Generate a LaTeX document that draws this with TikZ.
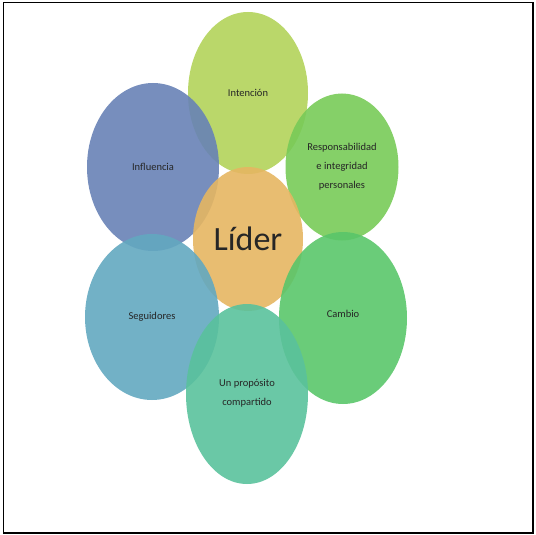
\documentclass[tikz,border=0pt]{standalone}
\usepackage{fontspec}
\setmainfont{Carlito}
\usetikzlibrary{shapes.geometric}
\definecolor{cIntencion}{HTML}{B3D35A}
\definecolor{cInfluencia}{HTML}{6882B6}
\definecolor{cRespons}{HTML}{78CB58}
\definecolor{cLider}{HTML}{E6B662}
\definecolor{cSeguidores}{HTML}{63A8C0}
\definecolor{cCambio}{HTML}{5AC66A}
\definecolor{cProposito}{HTML}{5AC29C}

\begin{document}
\begin{tikzpicture}[
        x=1pt, y=-1pt,
        blob/.style={ellipse,inner sep=0pt,fill opacity=0.9,text opacity=1,
            text=black!85,font=\fontsize{10.5}{19}\selectfont,align=center},
        frame/.style={line width=1.5pt}
        ]
        \useasboundingbox (0,0) rectangle (536,535);
        \draw[frame] (3.5,2.5) rectangle (533,533);

        \node[blob, fill=cIntencion, minimum width=120pt, minimum height=162pt] (intencion) at (248,93){Intención};
        \node[blob, fill=cInfluencia, minimum width=132pt, minimum height=168pt] (influencia) at (153,167){Influencia};
        \node[blob, fill=cRespons, minimum width=113pt, minimum height=147pt] (respons) at (342,167){Responsabilidad\\e integridad\\personales};
        \node[blob, fill=cLider, minimum width=110pt, minimum height=144pt, font=\fontsize{34}{38}\selectfont] (lider) at (248,239){Líder};
        \node[blob, fill=cSeguidores, minimum width=134pt, minimum height=166pt] (seguidores) at (152,317){Seguidores};
        \node[blob, fill=cCambio, minimum width=128pt, minimum height=172pt] (cambio) at (343,318){\raisebox{8pt}{Cambio}};
        \node[blob, fill=cProposito, minimum width=122pt, minimum height=180pt] (proposito) at (247,394){\raisebox{12pt}{\parbox{80pt}{\centering Un propósito\\compartido}}};
    \end{tikzpicture}
\end{document}
